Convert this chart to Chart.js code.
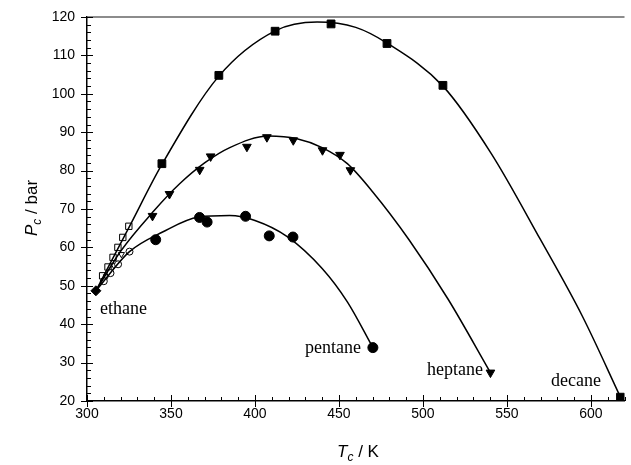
<!DOCTYPE html>
<html>
<head>
<meta charset="utf-8">
<script src="https://cdn.jsdelivr.net/npm/chart.js@4.4.0/dist/chart.umd.min.js"></script>
<style>
  body { margin: 0; background: #fff; }
  #wrap { width: 631px; height: 465px; }
</style>
</head>
<body>
<div id="wrap"><canvas id="myChart" width="631" height="465"></canvas></div>
<script>
// critical points (filled markers)
const ethane = [305.3, 48.7]
const decaneT = [344.6, 378.5, 412.0, 445.3, 478.6, 511.9, 617.6]
const decaneP = [81.8, 104.8, 116.3, 118.2, 113.1, 102.2, 21.0]
const heptaneT = [339.0, 349.1, 367.1, 373.6, 395.2, 407.1, 422.8, 440.2, 450.6, 456.8, 540.2]
const heptaneP = [68.2, 73.9, 80.2, 83.7, 86.2, 88.7, 87.9, 85.3, 84.1, 80.1, 27.4]
const pentaneT = [340.9, 367.0, 371.5, 394.4, 408.5, 422.6, 470.2]
const pentaneP = [62.0, 67.8, 66.6, 68.1, 63.0, 62.7, 33.9]

// open markers near ethane
const openSqT = [309.3, 312.5, 315.5, 318.4, 321.3, 324.9]
const openSqP = [52.6, 54.9, 57.4, 60.0, 62.6, 65.5]
const openTriT = [311.5, 316.0, 320.5]
const openTriP = [52.4, 55.3, 58.2]
const openCircT = [310.0, 314.0, 318.5, 325.3]
const openCircP = [51.2, 53.3, 55.6, 58.9]

// fitted curves
const decaneCurveT = [305.3, 325, 344.6, 378.5, 412, 437, 460, 478.6, 511.9, 540.6, 570, 595, 617.6]
const decaneCurveP = [48.7, 65.2, 81.6, 104.6, 116.4, 118.7, 117.3, 113.2, 102.0, 84.5, 62.0, 42.0, 21.0]
const heptaneCurveT = [305.3, 320, 340, 355, 370, 385, 408, 425, 440, 455, 470, 491.7, 515, 540.2]
const heptaneCurveP = [48.7, 59.0, 69.6, 76.5, 82.0, 86.0, 89.0, 88.3, 86.0, 81.8, 74.5, 62.0, 46.5, 27.4]
const pentaneCurveT = [305.3, 325.3, 345, 366.4, 385, 400, 419.2, 440, 455, 470.2]
const pentaneCurveP = [48.7, 58.9, 64.0, 67.9, 68.3, 67.0, 62.8, 54.5, 45.8, 33.9]

const xTicks = [300, 350, 400, 450, 500, 550, 600]
const yTicks = [20, 30, 40, 50, 60, 70, 80, 90, 100, 110, 120]

const labels = [
  { text: 'ethane', x: 100, y: 309 },
  { text: 'pentane', x: 305, y: 348 },
  { text: 'heptane', x: 427, y: 370 },
  { text: 'decane', x: 551, y: 381 }
]

const pts = (xs, ys) => xs.map((x, i) => ({ x: x, y: ys[i] }))

const curve = (xs, ys) => ({
  type: 'line',
  data: pts(xs, ys),
  borderColor: '#000',
  borderWidth: 1.5,
  pointRadius: 0,
  cubicInterpolationMode: 'monotone',
  fill: false
})

const markers = (xs, ys, style, radius, filled, rotation) => ({
  type: 'scatter',
  data: pts(xs, ys),
  pointStyle: style,
  pointRadius: radius,
  pointRotation: rotation || 0,
  backgroundColor: filled ? '#000' : '#fff',
  borderColor: '#000',
  borderWidth: 1
})

const decor = {
  id: 'decor',
  afterDraw(chart) {
    const ctx = chart.ctx
    const xs = chart.scales.x
    const ys = chart.scales.y
    const a = chart.chartArea
    ctx.save()
    // top frame
    ctx.strokeStyle = '#666'
    ctx.lineWidth = 1.5
    ctx.beginPath()
    ctx.moveTo(a.left, a.top)
    ctx.lineTo(a.right, a.top)
    ctx.stroke()
    // ticks
    ctx.strokeStyle = '#000'
    ctx.lineWidth = 1
    ctx.beginPath()
    for (let v = 300; v <= 620; v += 10) {
      const px = Math.round(xs.getPixelForValue(v)) + 0.5
      if (v % 50 === 0) {
        ctx.moveTo(px, a.bottom - 6); ctx.lineTo(px, a.bottom + 6)
      } else {
        ctx.moveTo(px, a.bottom - 4); ctx.lineTo(px, a.bottom)
      }
    }
    for (let v = 20; v <= 120; v += 2) {
      const py = Math.round(ys.getPixelForValue(v)) + 0.5
      if (v % 10 === 0) {
        ctx.moveTo(a.left - 6, py); ctx.lineTo(a.left + 6, py)
      } else {
        ctx.moveTo(a.left, py); ctx.lineTo(a.left + 4, py)
      }
    }
    ctx.stroke()

    // series labels
    ctx.fillStyle = '#000'
    ctx.font = '18px "Liberation Serif", "Times New Roman", serif'
    ctx.textBaseline = 'middle'
    ctx.textAlign = 'left'
    labels.forEach(l => ctx.fillText(l.text, l.x, l.y))

    // axis titles
    const big = '17px "Liberation Sans", Arial, sans-serif'
    const bigIt = 'italic 17px "Liberation Sans", Arial, sans-serif'
    const subIt = 'italic 12px "Liberation Sans", Arial, sans-serif'
    const drawTitle = (main, rest) => {
      ctx.font = bigIt
      const w1 = ctx.measureText(main).width
      ctx.font = subIt
      const w2 = ctx.measureText('c').width
      ctx.font = big
      const w3 = ctx.measureText(rest).width
      let x = -(w1 + w2 + w3) / 2
      ctx.textBaseline = 'alphabetic'
      ctx.font = bigIt; ctx.fillText(main, x, 0); x += w1
      ctx.font = subIt; ctx.fillText('c', x, 4); x += w2
      ctx.font = big; ctx.fillText(rest, x, 0)
    }
    ctx.save()
    ctx.translate(358, 457)
    drawTitle('T', ' / K')
    ctx.restore()
    ctx.save()
    ctx.translate(37, 208)
    ctx.rotate(-Math.PI / 2)
    drawTitle('P', ' / bar')
    ctx.restore()
    ctx.restore()
  }
}

const ctx = document.getElementById('myChart')
new Chart(ctx, {
  data: {
    datasets: [
      curve(decaneCurveT, decaneCurveP),
      curve(heptaneCurveT, heptaneCurveP),
      curve(pentaneCurveT, pentaneCurveP),
      markers(openCircT, openCircP, 'circle', 3.5, false),
      markers(openTriT, openTriP, 'triangle', 3.5, false, 180),
      markers(openSqT, openSqP, 'rect', 4.5, false),
      markers(decaneT, decaneP, 'rect', 5.5, true),
      markers(heptaneT, heptaneP, 'triangle', 5, true, 180),
      markers(pentaneT, pentaneP, 'circle', 5, true),
      markers([ethane[0]], [ethane[1]], 'rectRot', 5, true)
    ]
  },
  options: {
    responsive: false,
    animation: false,
    layout: { padding: { top: 17, right: 0, left: 0, bottom: 0 } },
    plugins: { legend: { display: false }, tooltip: { enabled: false } },
    scales: {
      x: {
        type: 'linear',
        min: 300,
        max: 620,
        grid: { display: false, drawTicks: false },
        border: { display: true, color: '#000', width: 1.5 },
        afterBuildTicks: s => { s.ticks = xTicks.map(v => ({ value: v })) },
        afterFit: s => { s.height = 64; s.paddingLeft = 0; s.paddingRight = 0 },
        ticks: {
          color: '#000',
          padding: 5,
          maxRotation: 0,
          font: { family: '"Liberation Sans", Arial, sans-serif', size: 14 }
        }
      },
      y: {
        type: 'linear',
        min: 20,
        max: 120,
        grid: { display: false, drawTicks: false },
        border: { display: true, color: '#000', width: 1.5 },
        afterBuildTicks: s => { s.ticks = yTicks.map(v => ({ value: v })) },
        afterFit: s => { s.width = 87; s.paddingTop = 0; s.paddingBottom = 0 },
        ticks: {
          color: '#000',
          padding: 12,
          font: { family: '"Liberation Sans", Arial, sans-serif', size: 14 }
        }
      }
    }
  },
  plugins: [decor]
})
</script>
</body>
</html>
